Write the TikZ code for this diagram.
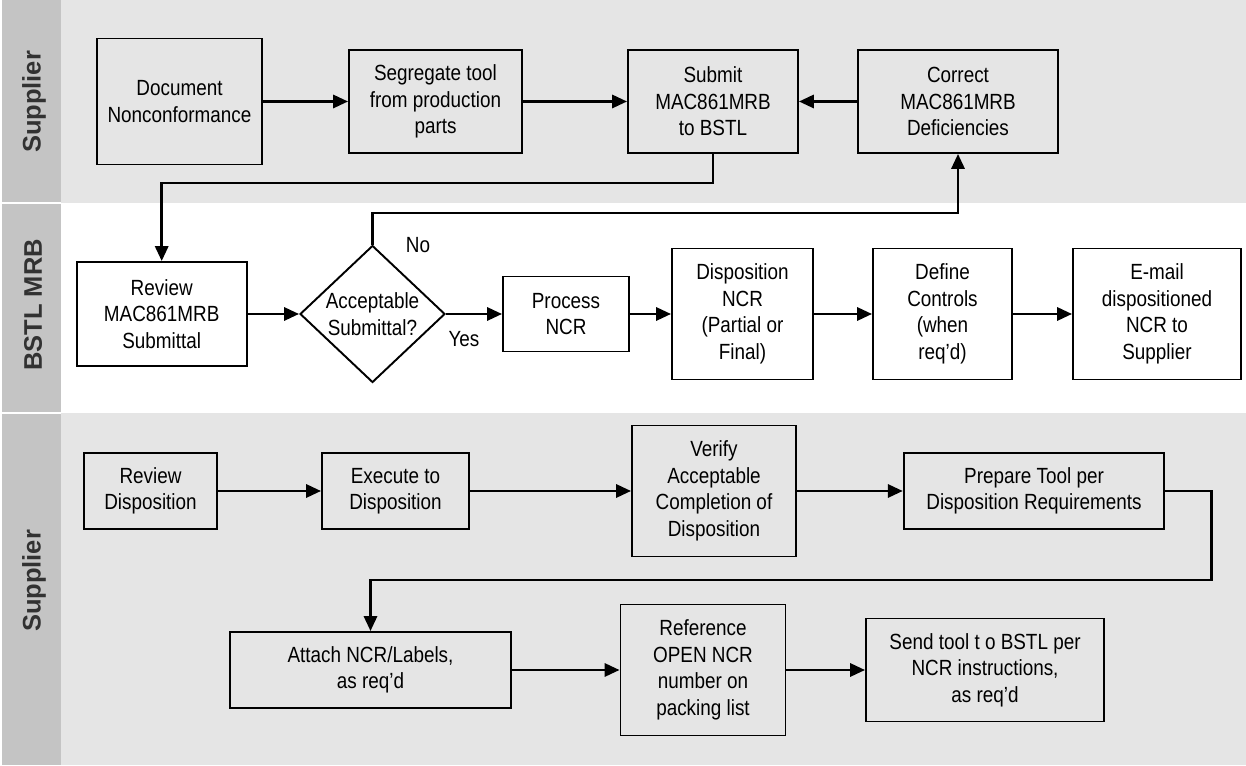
\documentclass[tikz,border=0pt]{standalone}
\usepackage{fontspec}
\setmainfont{Liberation Sans}
\newfontfamily\boxfont[FakeStretch=0.86]{Liberation Sans}
\usetikzlibrary{shapes.geometric, arrows.meta, positioning, calc}
\definecolor{lanegray}{RGB}{229,229,229}
\definecolor{labelgray}{RGB}{196,196,196}
\definecolor{lanetext}{RGB}{50,50,50}
\tikzset{
    procbox/.style={draw, rectangle, line width=1.1pt, align=center, inner sep=2pt, font={\boxfont\fontsize{12.5}{15.1}\selectfont}},
    decision/.style={draw, diamond, line width=1.1pt, align=center, inner sep=0pt, fill=white, font={\boxfont\fontsize{12.5}{15.1}\selectfont}},
    flowarrow/.style={-{Triangle[length=8.5pt,width=7.5pt]}, line width=1.5pt},
    flowlabel/.style={font={\boxfont\fontsize{12.5}{15.1}\selectfont}},
    lanelabel/.style={rotate=90, font=\bfseries\fontsize{14.5}{16}\selectfont, text=lanetext},
}

\begin{document}
\begin{tikzpicture}
    \useasboundingbox (0,0) rectangle (24.92,15.3);

    % Swim lanes
    \fill[lanegray] (0.04,11.24) rectangle (24.92,15.3);
    \fill[white] (0.04,7.04) rectangle (24.92,11.24);
    \fill[lanegray] (0.04,0) rectangle (24.92,7.04);
    \fill[labelgray] (0.04,0) rectangle (1.22,15.3);
    \draw[white, line width=0.6pt] (0.04,11.24) -- (1.22,11.24);
    \draw[white, line width=0.6pt] (0.04,7.04) -- (1.22,7.04);
    \node[lanelabel] (supA) at (0.68,13.26) {Supplier};
    \node[lanelabel] (mrb) at (0.66,9.20) {BSTL MRB};
    \node[lanelabel] (supB) at (0.68,3.68) {Supplier};

    % Supplier (top)
    \node[procbox, minimum width=3.30cm, minimum height=2.52cm] (docnc) at (3.59,13.27) {Document\\Nonconformance};
    \node[procbox, minimum width=3.46cm, minimum height=2.06cm] (segregate) at (8.71,13.27) {Segregate tool\\from production\\parts};
    \node[procbox, minimum width=3.40cm, minimum height=2.06cm] (submit) at (14.26,13.27) {Submit\\MAC861MRB\\to BSTL};
    \node[procbox, minimum width=4.00cm, minimum height=2.06cm] (correct) at (19.16,13.27) {Correct\\MAC861MRB\\Deficiencies};

    % BSTL MRB
    \node[procbox, minimum width=3.40cm, minimum height=2.08cm] (reviewsub) at (3.234,9.02) {Review\\MAC861MRB\\Submittal};
    \node[decision, minimum width=2.90cm, minimum height=2.74cm] (accept) at (7.45,9.02) {Acceptable\\Submittal?};
    \node[procbox, minimum width=2.52cm, minimum height=1.50cm] (process) at (11.32,9.02) {Process\\NCR};
    \node[procbox, minimum width=2.82cm, minimum height=2.62cm] (dispncr) at (14.85,9.02) {Disposition\\NCR\\(Partial or\\Final)};
    \node[procbox, minimum width=2.78cm, minimum height=2.62cm] (defctl) at (18.85,9.02) {Define\\Controls\\(when\\req’d)};
    \node[procbox, minimum width=3.36cm, minimum height=2.62cm] (email) at (23.14,9.02) {E-mail\\dispositioned\\NCR to\\Supplier};
    \node[flowlabel] (nolbl) at (8.36,10.40) {No};
    \node[flowlabel] (yeslbl) at (9.28,8.52) {Yes};

    % Supplier (bottom)
    \node[procbox, minimum width=2.66cm, minimum height=1.52cm] (reviewdisp) at (3.01,5.48) {Review\\Disposition};
    \node[procbox, minimum width=2.94cm, minimum height=1.52cm] (execute) at (7.91,5.48) {Execute to\\Disposition};
    \node[procbox, minimum width=3.28cm, minimum height=2.62cm] (verify) at (14.28,5.48) {Verify\\Acceptable\\Completion of\\Disposition};
    \node[procbox, minimum width=5.21cm, minimum height=1.52cm] (prepare) at (20.68,5.48) {Prepare Tool per\\Disposition Requirements};
    \node[procbox, minimum width=5.62cm, minimum height=1.52cm] (attach) at (7.41,1.90) {Attach NCR/Labels,\\as req’d};
    \node[procbox, minimum width=3.30cm, minimum height=2.62cm] (reference) at (14.06,1.90) {Reference\\OPEN NCR\\number on\\packing list};
    \node[procbox, minimum width=4.76cm, minimum height=2.06cm] (sendtool) at (19.70,1.90) {Send tool t o BSTL per\\NCR instructions,\\as req’d};

    % Arrows
    \draw[flowarrow] (docnc) -- (segregate);
    \draw[flowarrow] (segregate) -- (submit);
    \draw[flowarrow] (correct) -- (submit);
    \draw[flowarrow] (submit.south) -- ++(0,-0.58) -| (reviewsub.north);
    \draw[flowarrow] (reviewsub) -- (accept);
    \draw[flowarrow] (accept.north) -- ++(0,0.63) -| (correct.south);
    \draw[flowarrow] (accept) -- (process);
    \draw[flowarrow] (process) -- (dispncr);
    \draw[flowarrow] (dispncr) -- (defctl);
    \draw[flowarrow] (defctl) -- (email);
    \draw[flowarrow] (reviewdisp) -- (execute);
    \draw[flowarrow] (execute) -- (verify);
    \draw[flowarrow] (verify) -- (prepare);
    \draw[flowarrow] (prepare.east) -- ++(0.92,0) -- ++(0,-1.78) -| (attach.north);
    \draw[flowarrow] (attach) -- (reference);
    \draw[flowarrow] (reference) -- (sendtool);
\end{tikzpicture}
\end{document}
